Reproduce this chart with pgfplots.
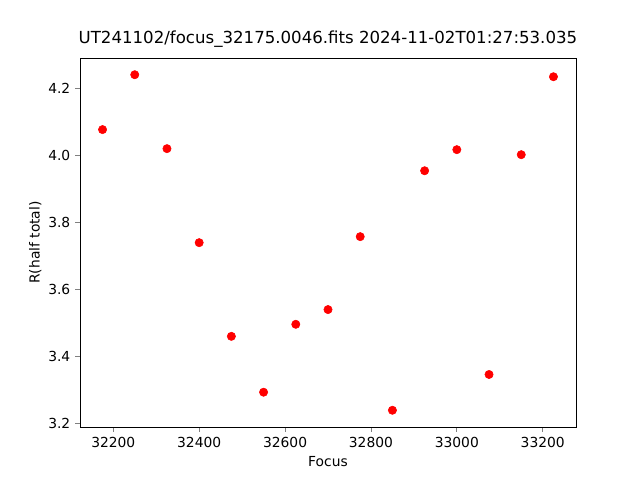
\documentclass[border=0pt]{standalone}
\usepackage{pgfplots}
\pgfplotsset{compat=1.18}
\usepackage{fontspec}
\setmainfont{DejaVu Sans}
\begin{document}
\begin{tikzpicture}
\path[use as bounding box] (-0.8in,-0.53in) rectangle (5.6in,4.27in);
\begin{axis}[
  at={(0,0)}, anchor=south west,
  scale only axis, width=4.96in, height=3.69in,
  xmin=32122.5, xmax=33277.5, ymin=3.189, ymax=4.292,
  xtick={32200,32400,32600,32800,33000,33200},
  ytick={3.2,3.4,3.6,3.8,4.0,4.2},
  scaled ticks=false,
  xticklabel style={/pgf/number format/fixed,/pgf/number format/precision=0},
  yticklabel style={/pgf/number format/fixed,/pgf/number format/fixed zerofill,/pgf/number format/precision=1},
  /pgf/number format/set thousands separator={},
  /pgf/number format/assume math mode=true,
  tick align=outside, tick pos=left,
  major tick length=3.5pt,
  major tick style={line width=0.6pt},
  ticklabel style={font=\fontsize{10}{12}\selectfont},
  xlabel={Focus}, ylabel={R(half total)},
  ylabel style={yshift=-2pt},
  label style={font=\fontsize{10}{12}\selectfont},
  title={UT241102/focus\_32175.0046.fits 2024-11-02T01:27:53.035},
  title style={font=\fontsize{12}{14}\selectfont, yshift=-2pt},
  axis line style={line width=0.6pt},
]
\addplot[only marks, mark=*, mark size=3pt, color=red, mark options={fill=red, draw=red}] coordinates {
(32175,4.078) (32250,4.242) (32325,4.021) (32400,3.740) (32475,3.460)
(32550,3.293) (32625,3.496) (32700,3.540) (32775,3.758) (32850,3.239)
(32925,3.955) (33000,4.018) (33075,3.346) (33150,4.003) (33225,4.236)
};
\end{axis}
\end{tikzpicture}
\end{document}
